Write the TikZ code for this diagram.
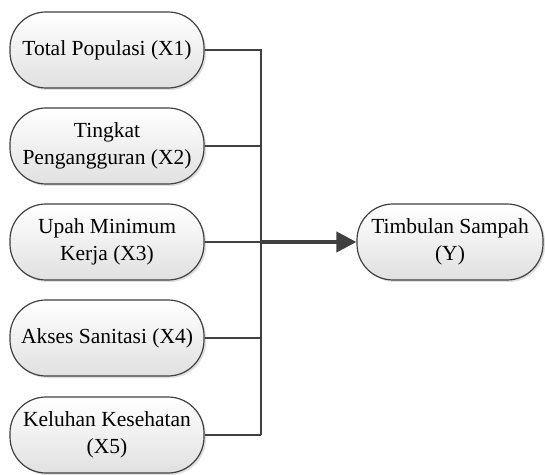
\documentclass[tikz,border=0pt]{standalone}
\usepackage{fontspec}
\setmainfont{Liberation Serif}
\usetikzlibrary{arrows.meta,shadows}
\begin{document}
\begin{tikzpicture}[x=0.5pt, y=-0.5pt,
  every node/.style = {shape=rectangle, rounded corners=18pt,
    draw=black!75, line width=0.6pt, align=center,
    minimum width=97pt, minimum height=38pt,
    font=\fontsize{10.75}{13.5}\selectfont,
    top color=white, bottom color=black!12,
    drop shadow={opacity=0.25, shadow xshift=1pt, shadow yshift=-1pt}},
  link/.style = {draw=black!75, line width=1pt},
  mainlink/.style = {draw=black!75, line width=2pt,
    -{Triangle[length=10pt,width=10pt]}}]
  \useasboundingbox (0,0) rectangle (545,475);
  \node (x1) at (107,50)  {Total Populasi (X1)};
  \node (x2) at (107,146) {Tingkat\\Pengangguran (X2)};
  \node (x3) at (107,242) {Upah Minimum\\Kerja (X3)};
  \node (x4) at (107,338) {Akses Sanitasi (X4)};
  \node (x5) at (107,435) {Keluhan Kesehatan\\(X5)};
  \node[minimum width=93pt] (y) at (450,242) {Timbulan Sampah\\(Y)};
  \coordinate (bus) at (261,435);
  % connectors
  \draw[link] (x1.east) -| (bus);
  \draw[link] (x5.east) -- (bus);
  \draw[link] (x2.east) -- (x2.east -| bus);
  \draw[link] (x3.east) -- (x3.east -| bus);
  \draw[link] (x4.east) -- (x4.east -| bus);
  \draw[mainlink] (x3.east -| bus) -- (y.west);
\end{tikzpicture}
\end{document}
